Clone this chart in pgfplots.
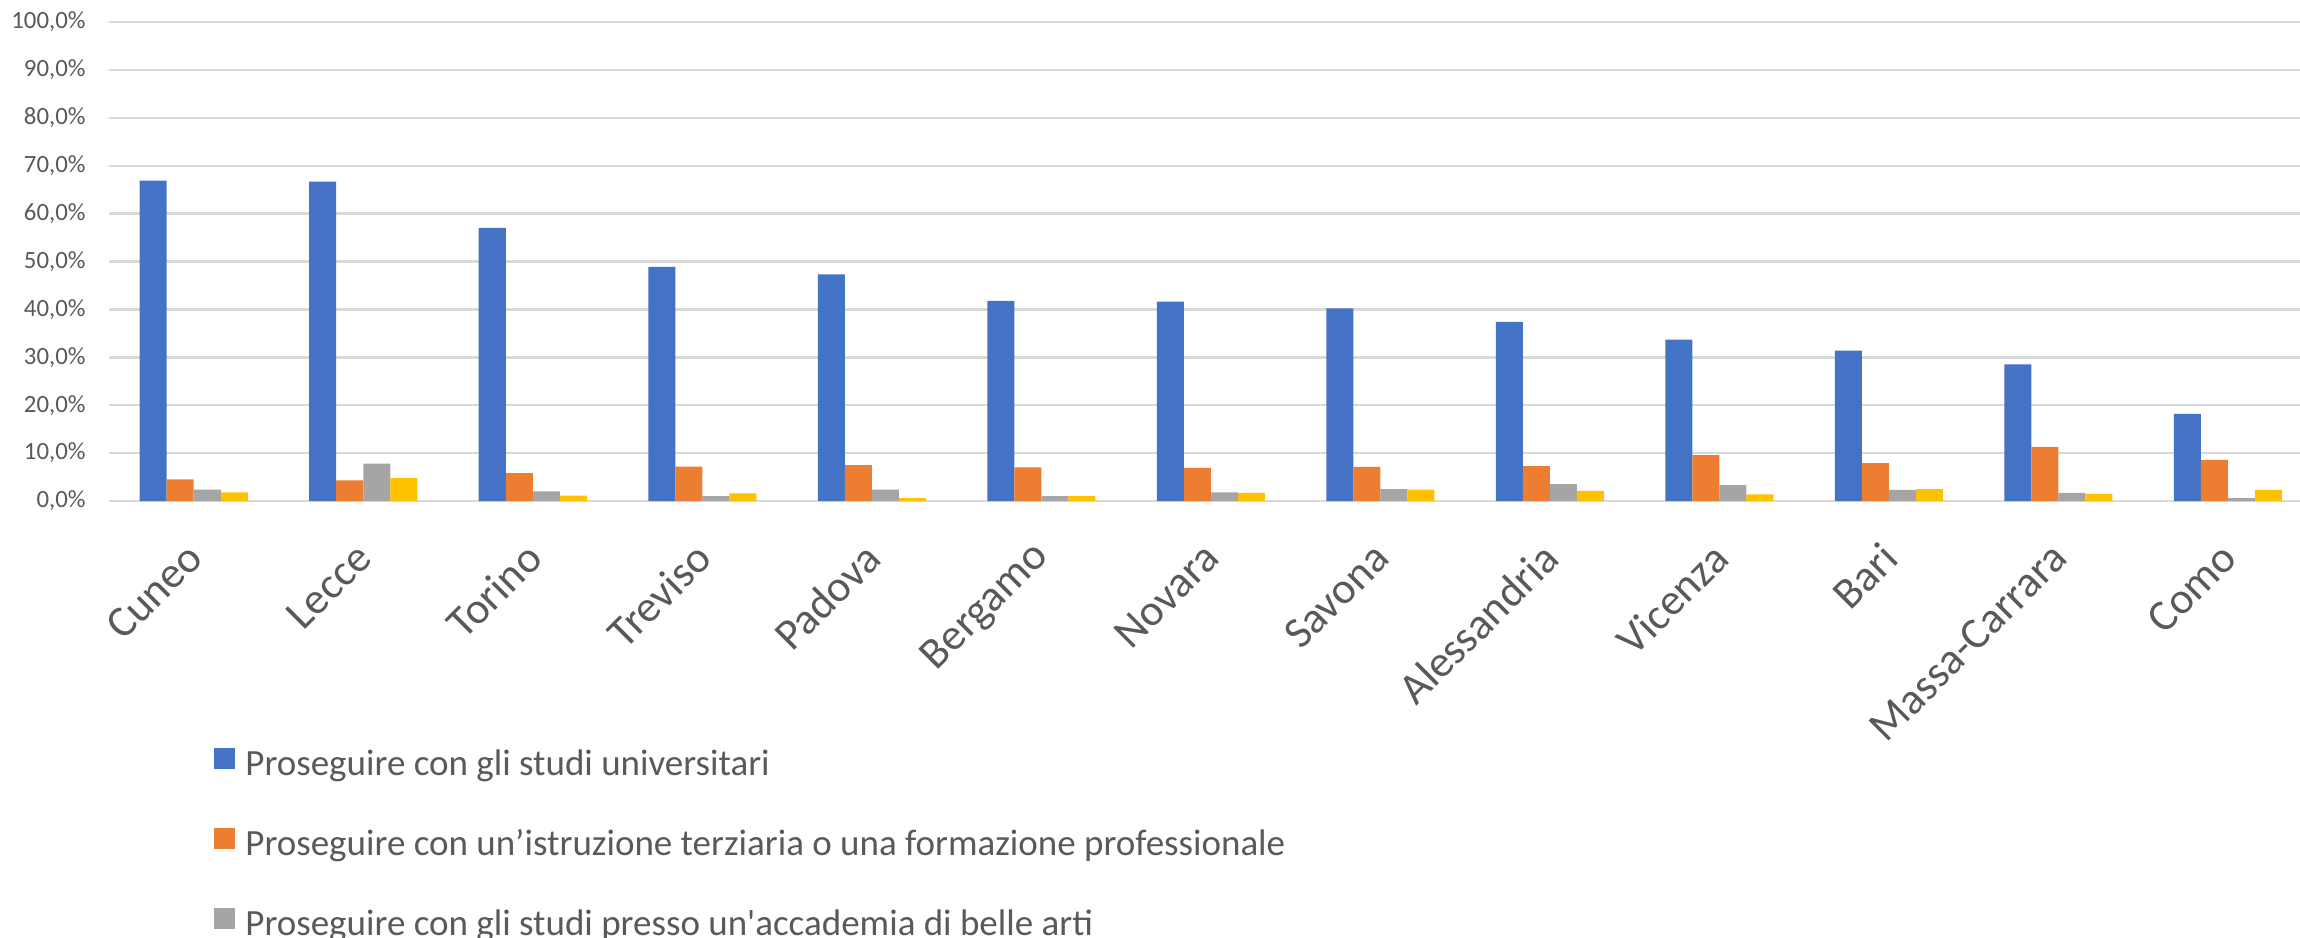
\documentclass[border=0pt]{standalone}
\usepackage{pgfplots}
\usepackage{pgfplotstable}
\pgfplotsset{compat=1.18}
\usepackage{fontspec}
\setmainfont{Carlito}

\definecolor{cblue}{HTML}{4472C4}
\definecolor{corange}{HTML}{ED7D31}
\definecolor{cgray}{HTML}{A5A5A5}
\definecolor{cyellow}{HTML}{FFC000}
\definecolor{gridgray}{HTML}{D9D9D9}
\definecolor{txt}{HTML}{595959}

% quote per provincia (%)
\pgfplotstableread{
x  uni   terz  acc  alt
0  66.9  4.5   2.4  1.8
1  66.7  4.3   7.8  4.8
2  57.0  5.8   2.0  1.1
3  48.9  7.2   1.0  1.6
4  47.3  7.5   2.4  0.6
5  41.8  7.0   1.0  1.0
6  41.6  6.9   1.8  1.7
7  40.2  7.1   2.5  2.4
8  37.4  7.3   3.5  2.1
9  33.7  9.6   3.3  1.4
10 31.4  7.9   2.3  2.5
11 28.5  11.3  1.7  1.5
12 18.2  8.6   0.6  2.3
}\dati

\begin{document}
\begin{tikzpicture}
\path[use as bounding box] (-54.5pt,-218pt) rectangle (1095.5pt,250.5pt);
\clip (-54.5pt,-218pt) rectangle (1095.5pt,250.5pt);
\begin{axis}[
    at={(0pt,0pt)}, anchor=south west,
    scale only axis,
    width=1101.75pt, height=239.5pt,
    ybar=0pt, bar width=13.5pt,
    xmin=-0.5, xmax=12.5,
    ymin=0, ymax=100,
    enlargelimits=false,
    axis line style={draw=none},
    tick style={draw=none},
    ymajorgrids,
    grid style={draw=gridgray, line width=1.2pt},
    ytick={0,10,...,100},
    yticklabel={\pgfmathprintnumber[fixed,fixed zerofill,precision=1,use comma]{\tick}\%},
    yticklabel style={/pgf/number format/assume math mode=true, inner sep=0pt, xshift=-11.5pt,
        font=\fontsize{12.4}{14}\selectfont, text=txt},
    xtick=data,
    xticklabels={Cuneo,Lecce,Torino,Treviso,Padova,Bergamo,Novara,Savona,Alessandria,Vicenza,Bari,Massa-Carrara,Como},
    xticklabel style={rotate=45, anchor=east, inner sep=0pt, xshift=-14pt, yshift=-15pt,
        font=\fontsize{22}{25}\selectfont, text=txt},
    legend style={at={(axis description cs:0,0)}, anchor=north west,
        xshift=49.5pt, yshift=-121.5pt, draw=none, fill=none,
        column sep=5pt, row sep=22.5pt,
        nodes={inner sep=0pt, text height=12pt, text depth=4pt},
        font=\fontsize{18.5}{22}\selectfont, text=txt},
    legend cell align=left,
    legend image code/.code={\fill[#1] (0pt,-1pt) rectangle (10.5pt,9.5pt);},
]
\addplot[fill=cblue, draw=none] table[x=x, y=uni] {\dati};
\addplot[fill=corange, draw=none] table[x=x, y=terz] {\dati};
\addplot[fill=cgray, draw=none] table[x=x, y=acc] {\dati};
\addplot[fill=cyellow, draw=none] table[x=x, y=alt] {\dati};
\legend{Proseguire con gli studi universitari,
    Proseguire con un’istruzione terziaria o una formazione professionale,
    Proseguire con gli studi presso un\textquotesingle accademia di belle arti}
\end{axis}
\end{tikzpicture}
\end{document}
